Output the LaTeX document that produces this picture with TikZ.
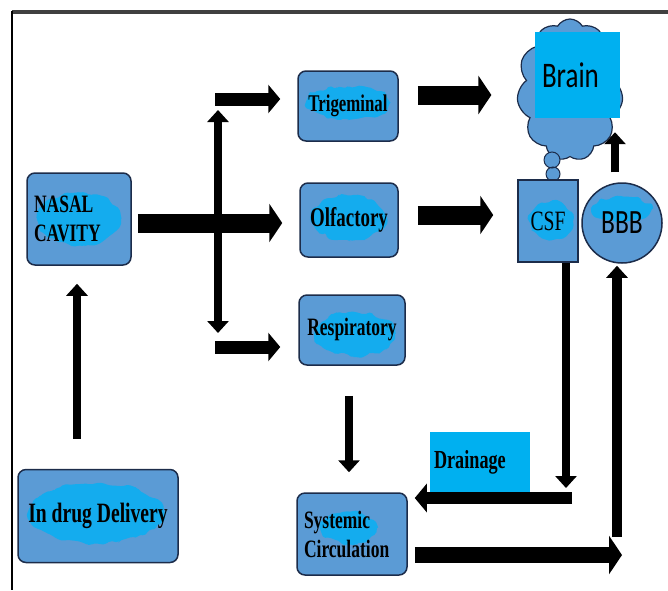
\documentclass[tikz,border=0pt]{standalone}
\usepackage{fontspec}
\usetikzlibrary{calc,arrows.meta,shapes.symbols,decorations.pathmorphing}
\newfontfamily\boxfont[FakeStretch=0.7]{Liberation Serif}
\newfontfamily\calfont[FakeStretch=0.75]{Carlito}
\definecolor{boxblue}{RGB}{91,155,213}
\definecolor{edgeblue}{RGB}{28,44,74}
\definecolor{brightcyan}{RGB}{0,176,240}
\definecolor{scribcyan}{RGB}{20,172,238}

\begin{document}
\pgfmathsetseed{11}
\begin{tikzpicture}[x=1pt, y=-1pt,
        box/.style={draw=edgeblue, line width=1.5pt, fill=boxblue, rounded corners=8pt,
            inner sep=0pt, font=\boxfont\bfseries\fontsize{25}{29}\selectfont},
        blob/.style 2 args={path picture={\fill[scribcyan, decorate,
            decoration={random steps, segment length=5pt, amplitude=2.5pt}, rounded corners=2pt]
            ($(path picture bounding box.center)+(#1)$) ellipse (#2);}},
        fatarrow/.style={line width=19pt, -{Triangle[length=13pt, width=38pt]}},
        midarrow/.style={line width=13pt, -{Triangle[length=12pt, width=28pt]}},
        thinarrow/.style={line width=8pt, -{Triangle[length=12pt, width=21pt]}},
        thinboth/.style={line width=8pt, {Triangle[length=12pt, width=21pt]}-{Triangle[length=12pt, width=21pt]}}]
        \useasboundingbox (0,0) rectangle (668,590);

        % Frame
        \draw[line width=4pt, black!75] (12,12) -- (668,12);
        \draw[line width=2.5pt, black] (12,11) -- (12,590);

        % Boxes
        \node[box, minimum width=104pt, minimum height=92pt, text width=90pt, align=left,
            blob={0,0}{42 and 26}] (nasal) at (79,219) {NASAL\\CAVITY};
        \node[box, minimum width=100pt, minimum height=70pt, font=\boxfont\bfseries\fontsize{24}{28}\selectfont,
            blob={0,-3}{42 and 17}] (trig) at (348,106) {Trigeminal};
        \node[box, minimum width=98pt, minimum height=74pt, font=\boxfont\bfseries\fontsize{27}{30}\selectfont,
            blob={0,-2}{38 and 22}] (olf) at (349,220) {Olfactory};
        \node[box, minimum width=106pt, minimum height=70pt, blob={3,4}{40 and 22}] (resp) at (352,330) {Respiratory};
        \node[box, minimum width=160pt, minimum height=93pt, font=\boxfont\bfseries\fontsize{28}{30}\selectfont,
            blob={-2,-3}{68 and 30}] (drug) at (98,516) {In drug Delivery};
        \node[box, minimum width=110pt, minimum height=82pt, text width=96pt, align=left,
            blob={-3,-6}{28 and 16}] (sys) at (352,534) {Systemic\\Circulation};

        % Brain and its bubbles
        \node[cloud, cloud puffs=11, cloud puff arc=120, aspect=0.75, draw=edgeblue, line width=1.2pt,
            fill=boxblue, minimum width=106pt, minimum height=142pt, inner sep=0pt] (brainc) at (570,90) {};
        \node[fill=brightcyan, minimum width=85pt, minimum height=86pt, inner sep=0pt, text width=70pt,
            align=left, font=\calfont\fontsize{36}{40}\selectfont] (brainr) at (577,75) {Brain};
        \filldraw[draw=edgeblue, fill=boxblue, line width=1pt]
            (552,160) circle (8) (553,174) circle (7);

        % CSF, BBB, drainage
        \node[draw=edgeblue, line width=1.5pt, fill=boxblue, minimum width=60pt, minimum height=82pt,
            inner sep=0pt, font=\boxfont\fontsize{28}{30}\selectfont, blob={3,0}{22 and 20}] (csf) at (548,221) {CSF};
        \node[circle, draw=edgeblue, line width=1.5pt, fill=boxblue, minimum size=80pt, inner sep=0pt,
            font=\calfont\fontsize{34}{36}\selectfont, blob={0,-14}{30 and 12}] (bbb) at (622,223) {BBB};
        \node[fill=brightcyan, minimum width=100pt, minimum height=60pt, inner sep=0pt, text width=92pt,
            align=left, font=\boxfont\bfseries\fontsize{26}{28}\selectfont] (drain) at (480,462) {Drainage};

        % Arrow ends
        \coordinate (nasalout) at ($(nasal.east)+(6,4)$);
        \coordinate (forkup) at (218,110);
        \coordinate (forkdown) at (218,333);
        \coordinate (trigin) at (215,99);
        \coordinate (respin) at (215,347);
        \coordinate (trigout) at ($(trig.east)+(19,-11)$);
        \coordinate (olfout) at ($(olf.east)+(19,-5)$);
        \coordinate (respout) at ($(resp.south)+(-3,30)$);
        \coordinate (drugout) at ($(drug.north)+(-21,-30)$);
        \coordinate (csfout) at ($(csf.south)+(18,0)$);
        \coordinate (drainstart) at (572,498);
        \coordinate (sysout) at ($(sys.east)+(7,21)$);
        \coordinate (sysend) at (622,555);
        \coordinate (bbbfoot) at (617,537);
        \coordinate (bbbout) at ($(bbb.north)+(-7,-10)$);

        % Arrows
        \draw[thinboth] (forkup) -- (forkdown);
        \draw[fatarrow, shorten >=17pt] (nasalout) -- (nasalout -| olf.west);
        \draw[midarrow, shorten >=17pt] (trigin) -- (trigin -| trig.west);
        \draw[midarrow, shorten >=18pt] (respin) -- (respin -| resp.west);
        \draw[fatarrow, shorten >=27pt] (trigout) -- (trigout -| brainc.west);
        \draw[fatarrow, shorten >=24pt] (olfout) -- (olfout -| csf.west);
        \draw[thinarrow, shorten >=20pt] (respout) -- (respout |- sys.north);
        \draw[thinarrow, shorten >=18pt] (drugout) -- (drugout |- nasal.south);
        \draw[thinarrow, shorten >=10pt] (csfout) -- (csfout |- drainstart);
        \draw[midarrow, line width=12pt, shorten >=7pt] (drainstart) -- (drainstart -| sys.east);
        \draw[fatarrow, line width=16pt] (sysout) -- (sysend);
        \draw[thinarrow, line width=10pt, shorten >=2pt] (bbbfoot) -- (bbbfoot |- bbb.south);
        \draw[thinarrow, shorten >=14pt] (bbbout) -- (bbbout |- brainr.south);
    \end{tikzpicture}
\end{document}
